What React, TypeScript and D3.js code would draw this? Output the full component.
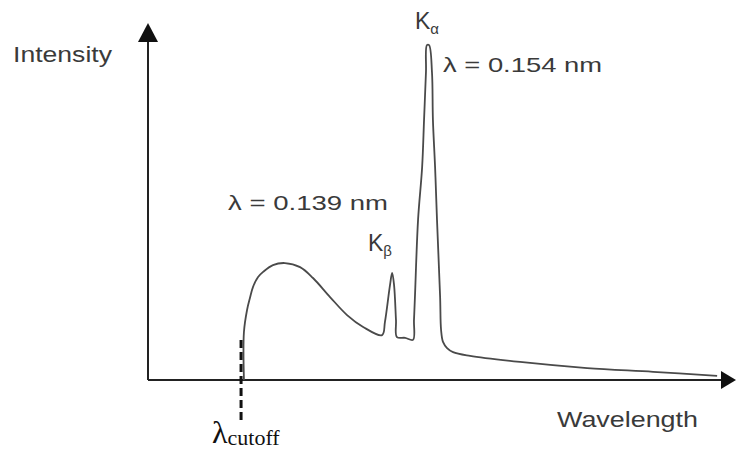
import React from 'react';
import * as d3 from 'd3';

// X-ray tube spectrum (wavelength in nm, intensity in arbitrary units)
const wavelength = [
  0.0770, 0.0770, 0.0783, 0.0795, 0.0808, 0.0829, 0.0850, 0.0891, 0.0941, 0.1004,
  0.1058, 0.1129, 0.1200, 0.1267, 0.1346,
  0.1358, 0.1379, 0.1388, 0.1396, 0.1404, 0.1408, 0.1442, 0.1475,
  0.1479, 0.1483, 0.1496, 0.1513, 0.1521, 0.1529, 0.1533, 0.1542, 0.1554, 0.1558,
  0.1567, 0.1575, 0.1588, 0.1592, 0.1600, 0.1617, 0.1642, 0.1713, 0.1921, 0.2201,
  0.2476, 0.2743,
];
const intensity = [
  0, 14.1, 20.6, 24.1, 27.4, 30.3, 31.8, 33.8, 34.4, 33.2,
  30.0, 24.4, 19.1, 15.6, 13.2,
  17.1, 27.9, 31.5, 27.9, 17.6, 12.6, 12.4, 11.8,
  17.6, 24.4, 47.1, 62.6, 76.5, 90.6, 98.5, 98.5, 90.6, 76.5,
  62.6, 47.1, 24.4, 14.7, 11.2, 9.4, 8.2, 7.1, 5.3, 3.5,
  2.4, 1.2,
];

const X_DOMAIN = [0.037, 0.278];
const Y_DOMAIN = [0, 100];
const CUTOFF_NM = 0.0758;
const X_LABEL = 'Wavelength';
const Y_LABEL = 'Intensity';
const KA_LABEL = 'λ = 0.154 nm';
const KB_LABEL = 'λ = 0.139 nm';

const width = 736;
const height = 454;
const sans = '"Liberation Sans", Arial, sans-serif';
const serif = '"Liberation Serif", "DejaVu Serif", serif';

export default function App() {
  const x = d3.scaleLinear().domain(X_DOMAIN).range([148, 726]);
  const y = d3.scaleLinear().domain(Y_DOMAIN).range([380, 40]);

  const data = wavelength.map((w, i) => ({ w, v: intensity[i] }));
  const line = d3.line<{ w: number; v: number }>()
    .x(d => x(d.w))
    .y(d => y(d.v))
    .curve(d3.curveCatmullRom.alpha(0.5))(data);

  const x0 = x.range()[0];
  const y0 = y(0);

  return (
    <svg
      width={width}
      height={height}
      style={{ position: 'absolute', left: 0, top: 0, background: '#fff' }}
    >
      {/* axes with arrow heads */}
      <line x1={x0} x2={x0} y1={y0} y2={38} stroke="#222" strokeWidth={2} />
      <path d={`M${x0},23 L${x0 - 10},42 L${x0 + 10},42 Z`} fill="#111" />
      <line x1={x0} x2={724} y1={y0} y2={y0} stroke="#222" strokeWidth={2} />
      <path d={`M736,${y0} L721,${y0 - 9} L721,${y0 + 9} Z`} fill="#111" />

      {/* spectrum */}
      <path d={line ?? ''} fill="none" stroke="#4a4a4a" strokeWidth={1.8} strokeLinejoin="round" />

      {/* cutoff marker */}
      <line
        x1={x(CUTOFF_NM)}
        x2={x(CUTOFF_NM)}
        y1={y0 - 40}
        y2={y0 + 42}
        stroke="#111"
        strokeWidth={3}
        strokeDasharray="8,4"
      />

      <g fontFamily={sans} fill="#3a3a3a">
        <text x={13} y={62} fontSize={22} textLength={99} lengthAdjust="spacingAndGlyphs">{Y_LABEL}</text>
        <text x={557} y={427} fontSize={22} textLength={141} lengthAdjust="spacingAndGlyphs">{X_LABEL}</text>
        <text x={443} y={72} fontSize={21} textLength={159} lengthAdjust="spacingAndGlyphs">{KA_LABEL}</text>
        <text x={228} y={210} fontSize={21} textLength={160} lengthAdjust="spacingAndGlyphs">{KB_LABEL}</text>
        <text x={415} y={29} fontSize={23}>K<tspan fontSize={15} dy={5}>α</tspan></text>
        <text x={368} y={251} fontSize={23}>K<tspan fontSize={15} dy={5}>β</tspan></text>
      </g>

      <text x={212} y={443} fontFamily={serif} fill="#111" fontSize={32}>
        λ<tspan fontSize={22} dy={2}>cutoff</tspan>
      </text>
    </svg>
  );
}
